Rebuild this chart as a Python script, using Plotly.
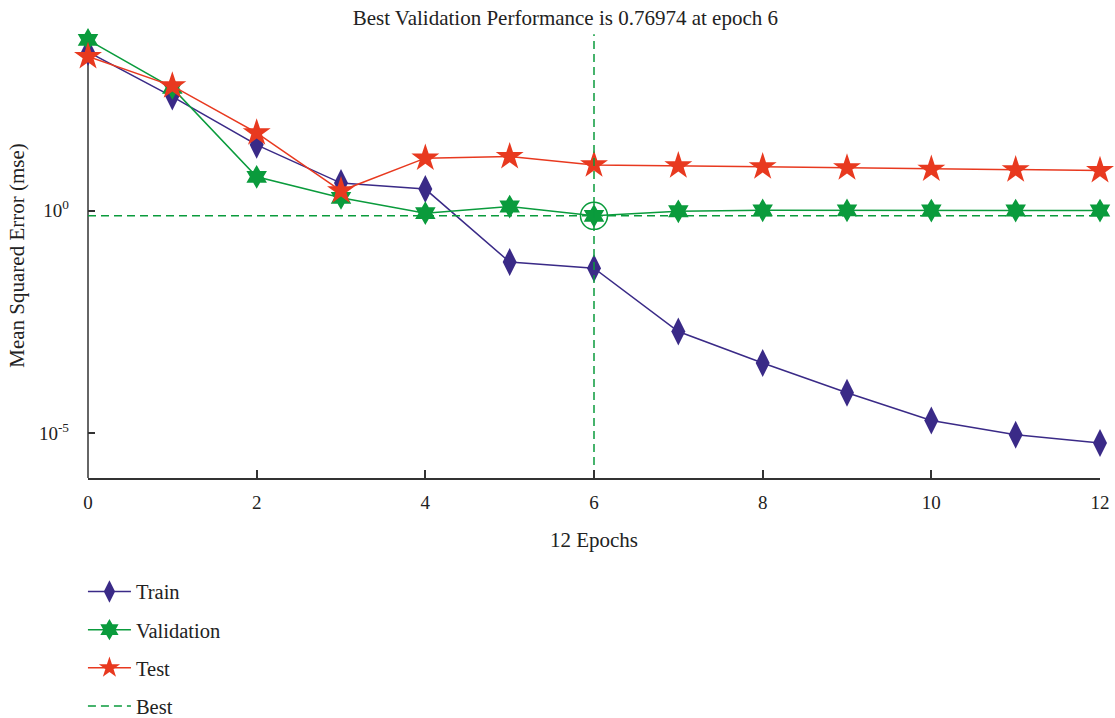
import plotly.graph_objects as go

epochs = list(range(13))
train = [3758, 371.5, 30.5, 4.20, 3.08, 0.0702, 0.0514, 1.93e-3, 3.76e-4, 8.07e-5, 1.92e-5, 9.18e-6, 5.97e-6]
validation = [7000, 583, 5.82, 1.96, 0.887, 1.25, 0.76974, 0.975, 1.026, 1.026, 1.016, 1.016, 1.016]
test = [2951, 646, 56.8, 2.82, 15.3, 16.6, 10.8, 10.3, 9.77, 9.27, 8.65, 8.36, 8.05]
best_epoch = 6
best_value = 0.76974
ytick_vals = [1e-5, 1]
ytick_text = ["10<sup>-5</sup>", "10<sup>0</sup>"]

c_train = "#3a2a87"
c_val = "#0a9b3c"
c_test = "#e8391f"
FONT = "Liberation Serif"
TXT = "#222222"
AX = "#333333"

y_lo, y_hi = -6.01, 4.0      # log10 axis range
y_axis_top = 3.58            # where the drawn left axis line ends (log10)

fig = go.Figure()
fig.add_trace(go.Scatter(x=epochs, y=train, name="Train", mode="lines+markers",
                         line=dict(color=c_train, width=1.5),
                         marker=dict(symbol="diamond-tall", size=20, color=c_train),
                         cliponaxis=False, legendgroup="a"))
fig.add_trace(go.Scatter(x=epochs, y=validation, name="Validation", mode="lines+markers",
                         line=dict(color=c_val, width=1.5),
                         marker=dict(symbol="hexagram", size=18, color=c_val),
                         cliponaxis=False, legendgroup="b"))
fig.add_trace(go.Scatter(x=epochs, y=test, name="Test", mode="lines+markers",
                         line=dict(color=c_test, width=1.5),
                         marker=dict(symbol="star", size=21, color=c_test),
                         cliponaxis=False, legendgroup="c"))
fig.add_trace(go.Scatter(x=[epochs[0], epochs[-1]], y=[best_value, best_value], name="Best",
                         mode="lines", line=dict(color=c_val, width=1.5, dash="8px,5px"),
                         cliponaxis=False, legendgroup="d"))
fig.add_trace(go.Scatter(x=[best_epoch, best_epoch], y=[10**y_lo, 10**3.97], mode="lines",
                         line=dict(color=c_val, width=1.5, dash="8px,5px"),
                         cliponaxis=False, showlegend=False))
fig.add_trace(go.Scatter(x=[best_epoch], y=[best_value], mode="markers",
                         marker=dict(symbol="circle-open", size=27, color=c_val, line=dict(width=1.5)),
                         cliponaxis=False, showlegend=False))

# left axis line (ends below top of plotting range, as in reference)
fig.add_shape(type="line", xref="paper", yref="paper", x0=0, x1=0, y0=0,
              y1=(y_axis_top - y_lo) / (y_hi - y_lo), line=dict(color=AX, width=1.5), layer="below")

fig.update_layout(
    width=1115, height=718,
    margin=dict(l=88, r=15, t=33, b=240, autoexpand=False),
    paper_bgcolor="white", plot_bgcolor="white",
    font=dict(family=FONT, size=19, color=TXT),
    title=dict(text="Best Validation Performance is 0.76974 at epoch 6", x=0.507, xanchor="center",
               y=0.976, yanchor="middle", font=dict(family=FONT, size=21, color=TXT)),
    xaxis=dict(range=[0, 12], tickvals=list(range(0, 13, 2)), ticks="inside", ticklen=8,
               tickcolor=AX, tickwidth=1.5, showline=True, linecolor=AX, linewidth=1.5,
               showgrid=False, zeroline=False, ticklabelstandoff=6, automargin=False,
               tickfont=dict(size=19),
               title=dict(text="12 Epochs", standoff=21, font=dict(size=21))),
    yaxis=dict(type="log", range=[y_lo, y_hi], tickvals=ytick_vals, ticktext=ytick_text,
               ticks="inside", ticklen=7, tickcolor=AX, tickwidth=1.5,
               showline=False, showgrid=False, zeroline=False, automargin=False,
               ticklabelstandoff=18, tickfont=dict(size=19),
               title=dict(text="Mean Squared Error (mse)", standoff=8, font=dict(size=21))),
    legend=dict(x=-0.005, y=-0.2105, xanchor="left", yanchor="top", orientation="v",
                tracegroupgap=8.5, itemwidth=43, font=dict(family=FONT, size=20.5),
                bgcolor="rgba(0,0,0,0)"),
)

fig.write_html("out.html", config={"displayModeBar": False},
               post_script="document.body.style.margin='0';"
                           "document.documentElement.style.overflow='hidden';")
